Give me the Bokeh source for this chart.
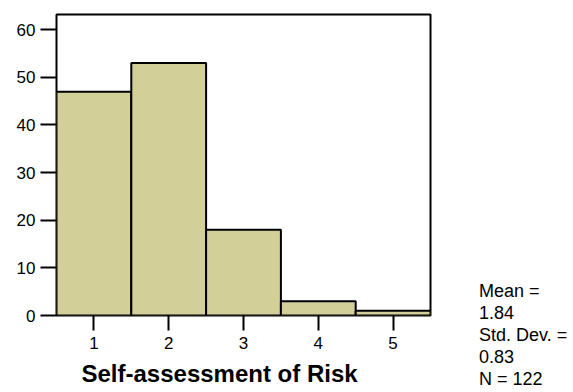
from bokeh.plotting import figure
from bokeh.models import FixedTicker, Range1d, Title, Div
from bokeh.layouts import row
from bokeh.embed import file_html
from bokeh.resources import INLINE
import numpy as np

# Data
categories = [1, 2, 3, 4, 5]
counts = [47, 53, 18, 3, 1]
y_ticks = [0, 10, 20, 30, 40, 50, 60]
x_label = "Self-assessment of Risk"

vals = np.repeat(categories, counts)
n = len(vals)
mean = vals.mean()
sd = vals.std(ddof=1)

FONT = "Liberation Sans"

p = figure(width=470, height=392, output_backend="svg", toolbar_location=None,
           x_range=Range1d(0.5, 5.5), y_range=Range1d(0, 63.2),
           min_border_left=56, min_border_right=40, min_border_top=14, min_border_bottom=76)

p.quad(left=[c - 0.5 for c in categories], right=[c + 0.5 for c in categories],
       bottom=0, top=counts, fill_color="#d3cf98", line_color="black", line_width=2)

p.grid.visible = False
p.outline_line_color = "black"
p.outline_line_width = 2
p.background_fill_color = "white"
p.border_fill_color = "white"

p.axis.axis_line_color = None
p.axis.major_tick_line_color = "black"
p.axis.major_tick_line_width = 2
p.axis.major_tick_in = 0
p.axis.minor_tick_line_color = None
p.axis.major_label_text_font = FONT
p.axis.major_label_text_font_size = "17px"
p.axis.major_label_text_color = "black"

p.yaxis.ticker = FixedTicker(ticks=y_ticks)
p.yaxis.major_tick_out = 16
p.yaxis.major_label_standoff = 5
p.xaxis.ticker = FixedTicker(ticks=categories)
p.xaxis.major_tick_out = 15
p.xaxis.major_label_standoff = 6

p.add_layout(Title(text=x_label, align="left", offset=25, standoff=12,
                   text_font=FONT, text_font_size="24px", text_font_style="bold",
                   text_line_height=1.0, text_color="black"), "below")

stats = ["Mean =", f"{mean:.2f}", "Std. Dev. =", f"{sd:.2f}", f"N = {n}"]
div = Div(text="<br>".join(stats), width=100, height=392,
          styles={"font-family": FONT, "font-size": "18px", "line-height": "22px",
                  "color": "black", "padding-top": "275px", "padding-left": "4px",
                  "white-space": "nowrap", "box-sizing": "border-box"})

layout = row(p, div)
open("out.html", "w").write(file_html(layout, INLINE))
